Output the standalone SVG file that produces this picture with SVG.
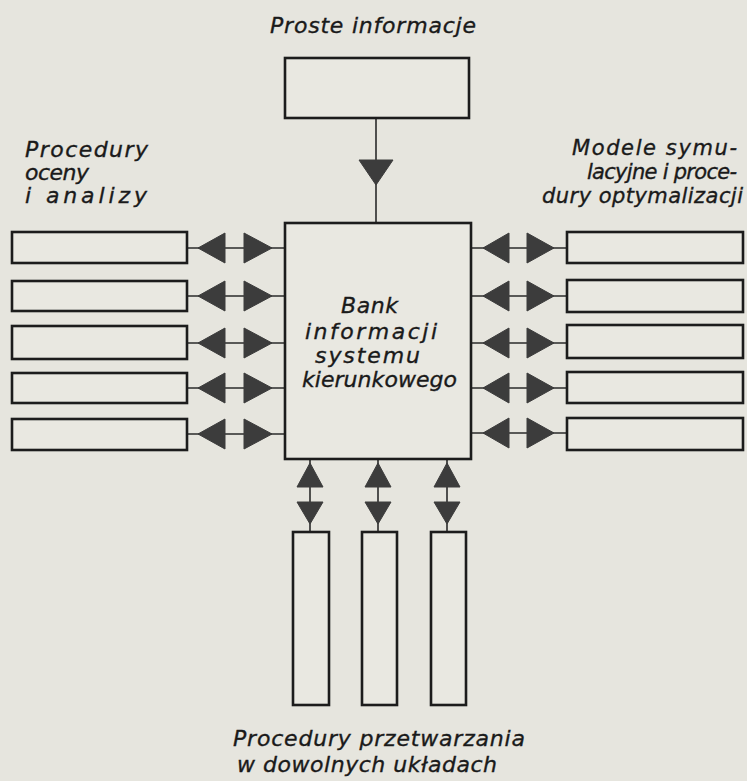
<svg xmlns="http://www.w3.org/2000/svg" width="747" height="781" viewBox="0 0 747 781">
<style>
.bg{fill:#e6e5de}
.box{fill:#e9e8e1;stroke:#1c1c1c;stroke-width:2.6}
.ln{stroke:#2a2a2a;stroke-width:1.6;fill:none}
.ah{fill:#3c3c3c;stroke:#3c3c3c;stroke-width:1;stroke-linejoin:round}
.t{font-family:"DejaVu Sans","Liberation Sans",sans-serif;font-style:oblique;font-size:22px;fill:#1a1a1a;stroke:#1a1a1a;stroke-width:0.35}
.s{font-size:21px}
</style>
<rect class="bg" x="0" y="0" width="747" height="781"/>

<g id="label-top"><text class="t" x="270" y="33" textLength="206" lengthAdjust="spacing">Proste informacje</text></g>
<g id="label-left">
<text class="t" x="25" y="157" textLength="123" lengthAdjust="spacing">Procedury</text>
<text class="t" x="25" y="180" textLength="64" lengthAdjust="spacing">oceny</text>
<text class="t" x="25" y="203" textLength="122" lengthAdjust="spacing">i analizy</text>
</g>
<g id="label-right">
<text class="t s" x="572" y="155" textLength="165" lengthAdjust="spacing">Modele symu-</text>
<text class="t s" x="587" y="179" textLength="150" lengthAdjust="spacing">lacyjne i proce-</text>
<text class="t s" x="542" y="203" textLength="201" lengthAdjust="spacing">dury optymalizacji</text>
</g>
<g id="label-bottom">
<text class="t" x="233" y="746" textLength="292" lengthAdjust="spacing">Procedury przetwarzania</text>
<text class="t" x="237" y="772" textLength="260" lengthAdjust="spacing">w dowolnych układach</text>
</g>

<g id="connectors">
<line class="ln" x1="376" y1="118" x2="376" y2="223"/>
<polygon class="ah" points="359,160 393,160 376,185"/>

<g id="conn-left">
<line class="ln" x1="188" y1="248" x2="285" y2="248"/>
<polygon class="ah" points="198,248 225,233 225,263"/><polygon class="ah" points="272,248 244,233 244,263"/>
<line class="ln" x1="188" y1="296" x2="285" y2="296"/>
<polygon class="ah" points="198,296 225,281 225,311"/><polygon class="ah" points="272,296 244,281 244,311"/>
<line class="ln" x1="188" y1="343" x2="285" y2="343"/>
<polygon class="ah" points="198,343 225,328 225,358"/><polygon class="ah" points="272,343 244,328 244,358"/>
<line class="ln" x1="188" y1="388" x2="285" y2="388"/>
<polygon class="ah" points="198,388 225,373 225,403"/><polygon class="ah" points="272,388 244,373 244,403"/>
<line class="ln" x1="188" y1="434" x2="285" y2="434"/>
<polygon class="ah" points="198,434 225,419 225,449"/><polygon class="ah" points="272,434 244,419 244,449"/>
</g>

<g id="conn-right">
<line class="ln" x1="471" y1="248" x2="567" y2="248"/>
<polygon class="ah" points="483,248 509,233 509,263"/><polygon class="ah" points="554,248 527,233 527,263"/>
<line class="ln" x1="471" y1="296" x2="567" y2="296"/>
<polygon class="ah" points="483,296 509,281 509,311"/><polygon class="ah" points="554,296 527,281 527,311"/>
<line class="ln" x1="471" y1="343" x2="567" y2="343"/>
<polygon class="ah" points="483,343 509,328 509,358"/><polygon class="ah" points="554,343 527,328 527,358"/>
<line class="ln" x1="471" y1="388" x2="567" y2="388"/>
<polygon class="ah" points="483,388 509,373 509,403"/><polygon class="ah" points="554,388 527,373 527,403"/>
<line class="ln" x1="471" y1="433" x2="567" y2="433"/>
<polygon class="ah" points="483,433 509,418 509,448"/><polygon class="ah" points="554,433 527,418 527,448"/>
</g>

<g id="conn-bottom">
<line class="ln" x1="310" y1="459" x2="310" y2="532"/>
<polygon class="ah" points="310,463 297,487 323,487"/><polygon class="ah" points="297,502 323,502 310,524"/>
<line class="ln" x1="378" y1="459" x2="378" y2="532"/>
<polygon class="ah" points="378,463 365,487 391,487"/><polygon class="ah" points="365,502 391,502 378,524"/>
<line class="ln" x1="447" y1="459" x2="447" y2="532"/>
<polygon class="ah" points="447,463 434,487 460,487"/><polygon class="ah" points="434,502 460,502 447,524"/>
</g>
</g>

<g id="node-top"><rect class="box" x="285" y="58" width="184" height="60"/></g>

<g id="node-bank">
<rect class="box" x="285" y="223" width="186" height="236"/>
<text class="t" x="341" y="313" textLength="57" lengthAdjust="spacing">Bank</text>
<text class="t" x="305" y="339" textLength="132" lengthAdjust="spacing">informacji</text>
<text class="t" x="315" y="363" textLength="105" lengthAdjust="spacing">systemu</text>
<text class="t" x="302" y="387" textLength="155" lengthAdjust="spacing">kierunkowego</text>
</g>

<g id="node-left-1"><rect class="box" x="12" y="232" width="175" height="31"/></g>
<g id="node-left-2"><rect class="box" x="12" y="281" width="175" height="30"/></g>
<g id="node-left-3"><rect class="box" x="12" y="326" width="175" height="33"/></g>
<g id="node-left-4"><rect class="box" x="12" y="373" width="175" height="30"/></g>
<g id="node-left-5"><rect class="box" x="12" y="419" width="175" height="31"/></g>

<g id="node-right-1"><rect class="box" x="567" y="232" width="176" height="31"/></g>
<g id="node-right-2"><rect class="box" x="567" y="280" width="176" height="32"/></g>
<g id="node-right-3"><rect class="box" x="567" y="325" width="176" height="33"/></g>
<g id="node-right-4"><rect class="box" x="567" y="372" width="176" height="31"/></g>
<g id="node-right-5"><rect class="box" x="567" y="418" width="176" height="32"/></g>

<g id="node-bottom-1"><rect class="box" x="293" y="532" width="36" height="173"/></g>
<g id="node-bottom-2"><rect class="box" x="362" y="532" width="35" height="173"/></g>
<g id="node-bottom-3"><rect class="box" x="431" y="532" width="35" height="173"/></g>
</svg>
